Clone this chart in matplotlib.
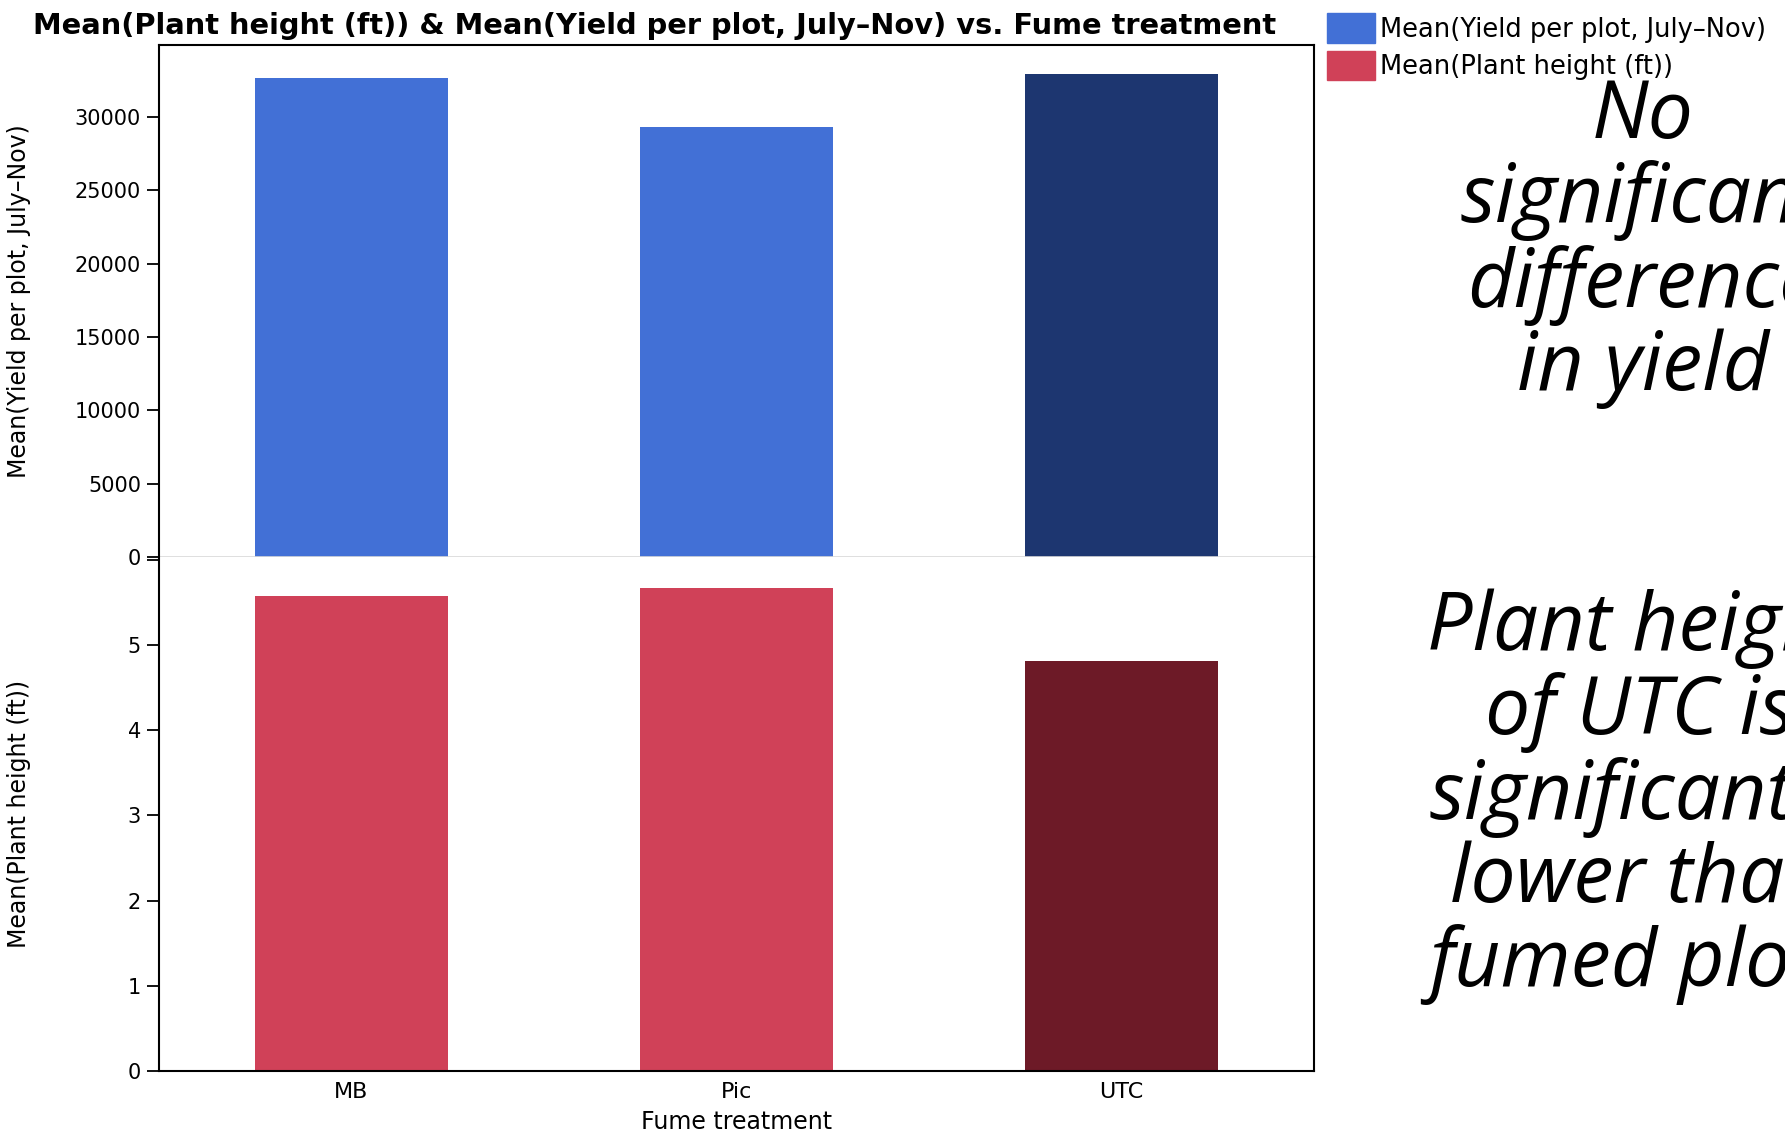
import matplotlib
matplotlib.use("Agg")
import matplotlib.pyplot as plt
from matplotlib.patches import Patch

## Data
treatments = ["MB", "Pic", "UTC"]
yield_means = [32650, 29300, 32930]   # Mean(Yield per plot, July-Nov)
height_means = [5.57, 5.67, 4.81]     # Mean(Plant height (ft))
yield_ticks = [0, 5000, 10000, 15000, 20000, 25000, 30000]
height_ticks = [0, 1, 2, 3, 4, 5, 6]
height_ticklabels = ["0", "1", "2", "3", "4", "5", ""]

## Colours (UTC is highlighted in the darker shade)
blue, navy = "#4270D6", "#1D3670"
red, darkred = "#D04158", "#6D1A27"
yield_colors = [blue, blue, navy]
height_colors = [red, red, darkred]

plt.rcParams["font.family"] = "DejaVu Sans"

fig = plt.figure(figsize=(17.85, 11.33), dpi=100)
W, H = 1785.0, 1133.0
left, right = 159 / W, 1314 / W
top, mid, bottom = 1 - 45 / H, 1 - 557 / H, 1 - 1071 / H

ax1 = fig.add_axes([left, mid, right - left, top - mid])
ax2 = fig.add_axes([left, bottom, right - left, mid - bottom], sharex=ax1)

x = range(len(treatments))
ax1.bar(x, yield_means, width=0.5, color=yield_colors)
ax2.bar(x, height_means, width=0.5, color=height_colors)

ax1.set_xlim(-0.5, 2.5)
ax1.set_ylim(0, 34900)
ax2.set_ylim(0, 6.03)

ax1.set_yticks(yield_ticks)
ax2.set_yticks(height_ticks)
ax2.set_yticklabels(height_ticklabels)
ax2.set_xticks(list(x))
ax2.set_xticklabels(treatments)

for ax in (ax1, ax2):
    for s in ax.spines.values():
        s.set_linewidth(1.5)
        s.set_color("black")
    ax.tick_params(axis="y", direction="out", length=9, width=1.3, labelsize=15, pad=4)
    ax.tick_params(axis="x", length=0, labelsize=16, pad=8)
ax1.spines["bottom"].set_color("#d9d9d9")
ax1.spines["bottom"].set_linewidth(1.2)
ax2.spines["top"].set_visible(False)
ax1.tick_params(axis="x", labelbottom=False)

## Axis labels (anchor = right edge of the rotated text)
ax1.set_ylabel("Mean(Yield per plot, July\u2013Nov)", fontsize=17)
ax2.set_ylabel("Mean(Plant height (ft))", fontsize=17)
lab_x = -(159 - 31) / (1314 - 159)
ax1.yaxis.set_label_coords(lab_x, 0.5)
ax2.yaxis.set_label_coords(lab_x, 0.5)
ax2.set_xlabel("Fume treatment", fontsize=17, labelpad=6)

## Title
fig.text(655 / W, 1 - 26 / H,
         "Mean(Plant height (ft)) & Mean(Yield per plot, July\u2013Nov) vs. Fume treatment",
         ha="center", va="center", fontsize=20.8, fontweight="bold")

## Legend top right
handles = [Patch(color=blue), Patch(color=red)]
fig.legend(handles, ["Mean(Yield per plot, July\u2013Nov)", "Mean(Plant height (ft))"],
           loc="upper left", bbox_to_anchor=(1322 / W, 1 - 8 / H), frameon=False,
           fontsize=18.5, handlelength=1.85, handleheight=1.4, handletextpad=0.2,
           labelspacing=0.3, borderpad=0.2, borderaxespad=0)

## Annotations (clipped by the right edge as in the original)
fig.text(1643 / W, 1 - 243 / H, "No\nsignificant\ndifference\nin yield",
         ha="center", va="center", fontsize=58, style="italic",
         family="Open Sans", linespacing=1.05)
fig.text(1640 / W, 1 - 797 / H, "Plant height\nof UTC is\nsignificantly\nlower than\nfumed plots",
         ha="center", va="center", fontsize=58, style="italic",
         family="Open Sans", linespacing=1.05)

fig.savefig("out.png", dpi=100)
